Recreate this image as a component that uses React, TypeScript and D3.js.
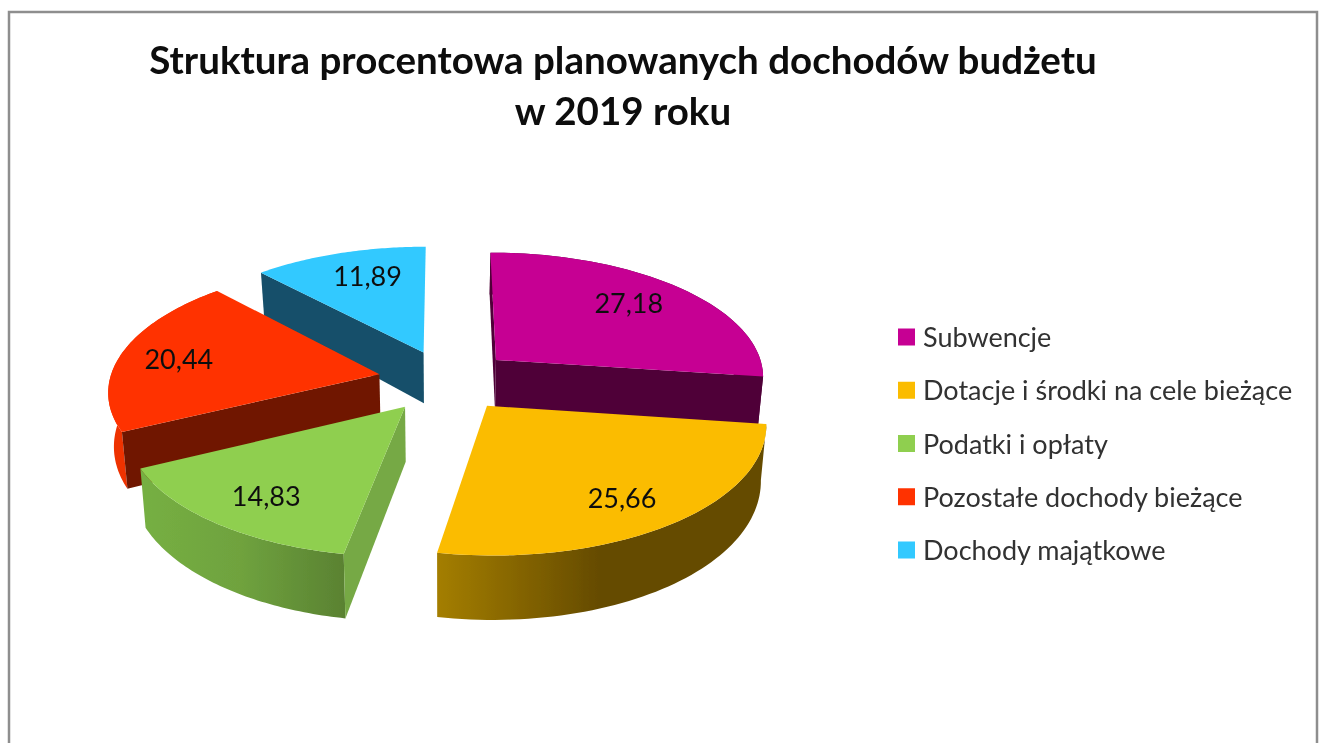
import React from "react";
import * as d3 from "d3";

const categories = [
  "Subwencje",
  "Dotacje i środki na cele bieżące",
  "Podatki i opłaty",
  "Pozostałe dochody bieżące",
  "Dochody majątkowe",
];
const values = [27.18, 25.66, 14.83, 20.44, 11.89];
const valueLabels = ["27,18", "25,66", "14,83", "20,44", "11,89"];
const titleLines = ["Struktura procentowa planowanych dochodów budżetu", "w 2019 roku"];

const topColors = ["#C60093", "#FBBC00", "#8FCF4F", "#FF3300", "#31C9FF"];
const edgeColors = ["#4F0038", "#654B00", "#76A944", "#701800", "#14506A"];
const arcColors = ["#4F0038", "url(#wallDotacje)", "url(#wallPodatki)", "#EE3000", "none"];

// Layout of the exploded 3D pie, in the pie's own plane.
const W = 1325;
const H = 743;
const CX = 444;
const CY = 381;
const RX = 270;
const RY = 273;
const TILT = 0.458;
const PERSP = 0.000443;
const explode: [number, number][] = [[53, -47], [42, 53], [-38, 55], [-65, -15], [-21, -64]];
const labelRadius = [0.65, 0.78, 0.77, 0.73, 0.58];
const labelNudge: [number, number][] = [[12, -7], [-6, 3], [3, 3], [-12, 2], [-5, -15]];
const drawStartEdge = [true, false, true, true, true];
const drawEndEdge = [true, false, false, false, false];
const drawOrder = [4, 0, 3, 2, 1];

const pie = d3.pie<number>().sort(null).startAngle(0).endAngle(2 * Math.PI);
const slices = pie(values);

type P = [number, number];
const top = (X: number, Y: number): P => {
  const w = 1 / (1 - PERSP * Y);
  return [CX + X * w, CY + TILT * Y * w];
};
const bottom = (X: number, Y: number): P => {
  const [sx, sy] = top(X, Y);
  return [CX + (sx - CX) * 0.983, sy + 53 + 0.035 * Y];
};
const onRim = (i: number, a: number, k = 1): [number, number] => [
  explode[i][0] + k * RX * Math.sin(a),
  explode[i][1] - k * RY * Math.cos(a),
];
const line = d3.line<P>();

function paths(i: number) {
  const s = slices[i];
  const steps = d3.range(0, 61).map((k) => s.startAngle + ((s.endAngle - s.startAngle) * k) / 60);
  const rim = steps.map((a) => onRim(i, a));
  const apex = explode[i];
  const topRim = rim.map(([x, y]) => top(x, y));
  const botRim = rim.map(([x, y]) => bottom(x, y));
  const aT = top(apex[0], apex[1]);
  const aB = bottom(apex[0], apex[1]);
  return {
    top: line([aT, ...topRim])! + "Z",
    arc: line([...topRim, ...[...botRim].reverse()])! + "Z",
    startEdge: line([aT, topRim[0], botRim[0], aB])! + "Z",
    endEdge: line([aT, topRim[60], botRim[60], aB])! + "Z",
  };
}

const legendX = 898;
const legendY = d3.scalePoint<string>().domain(categories).range([337, 550]);

export default function App() {
  return (
    <svg
      width={W}
      height={H}
      viewBox={`0 0 ${W} ${H}`}
      style={{ position: "absolute", left: 0, top: 0, background: "#fff" }}
    >
      <defs>
        <linearGradient id="wallDotacje" gradientUnits="userSpaceOnUse" x1={437} x2={600} y1={0} y2={0}>
          <stop offset="0" stopColor="#A47E00" />
          <stop offset="1" stopColor="#654B00" />
        </linearGradient>
        <linearGradient id="wallPodatki" gradientUnits="userSpaceOnUse" x1={139} x2={344} y1={0} y2={0}>
          <stop offset="0" stopColor="#76B043" />
          <stop offset="0.5" stopColor="#6FA23E" />
          <stop offset="1" stopColor="#5A8232" />
        </linearGradient>
        <filter id="soft" x="-2%" y="-2%" width="104%" height="104%">
          <feGaussianBlur stdDeviation="0.6" />
        </filter>
      </defs>
      <g filter="url(#soft)">
        <rect x={9} y={12} width={1308} height={800} fill="#fff" stroke="#8E8E8E" strokeWidth={2.5} />
        <g fontFamily="Lato" fontWeight={700} fontSize={38.5} fill="#0a0a0a" textAnchor="middle">
          {titleLines.map((t, i) => (
            <text key={t} x={623} y={74 + i * 51}>
              {t}
            </text>
          ))}
        </g>
        {drawOrder.map((i) => {
          const p = paths(i);
          return (
            <g key={categories[i]}>
              <path d={p.arc} fill={arcColors[i]} />
              {drawStartEdge[i] && <path d={p.startEdge} fill={edgeColors[i]} />}
              {drawEndEdge[i] && <path d={p.endEdge} fill={edgeColors[i]} />}
              <path d={p.top} fill={topColors[i]} />
            </g>
          );
        })}
        <g fontFamily="Lato" fontSize={27} fill="#111" textAnchor="middle">
          {drawOrder.map((i) => {
            const s = slices[i];
            const mid = (s.startAngle + s.endAngle) / 2;
            const [x, y] = onRim(i, mid, labelRadius[i]);
            const [sx, sy] = top(x, y);
            return (
              <text key={i} x={sx + labelNudge[i][0]} y={sy + 9 + labelNudge[i][1]}>
                {valueLabels[i]}
              </text>
            );
          })}
        </g>
        <g fontFamily="Lato" fontSize={27} fill="#303030">
          {categories.map((c, i) => {
            const y = legendY(c)!;
            return (
              <g key={c}>
                <rect x={legendX} y={y - 8.5} width={17} height={17} fill={topColors[i]} />
                <text x={legendX + 25} y={y + 10}>
                  {c}
                </text>
              </g>
            );
          })}
        </g>
      </g>
    </svg>
  );
}
